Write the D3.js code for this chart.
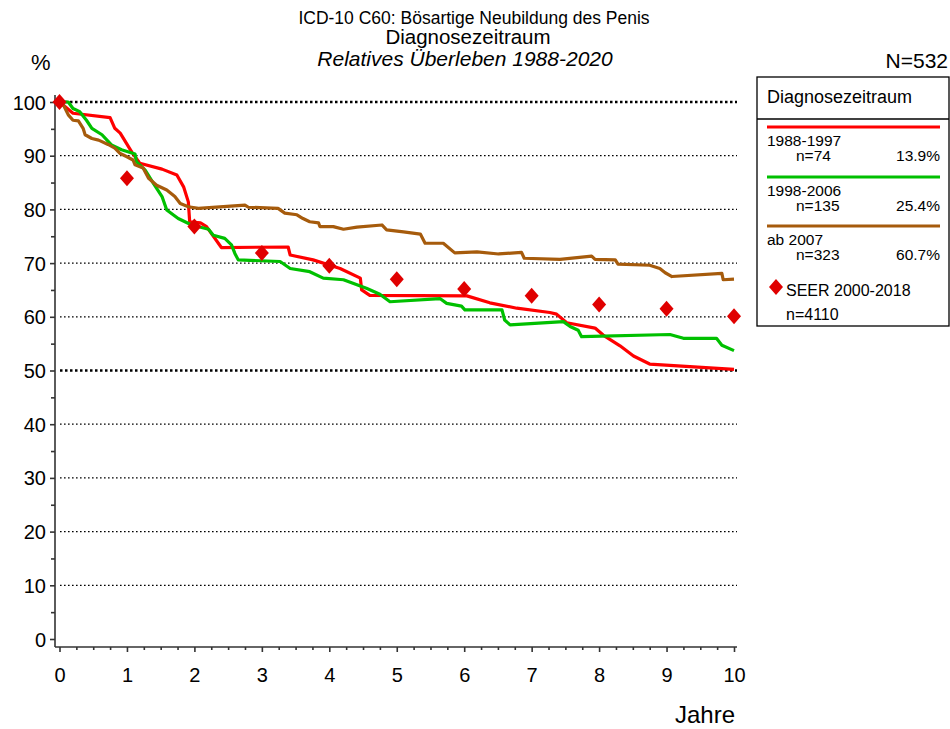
<!DOCTYPE html>
<html><head><meta charset="utf-8">
<script src="https://cdn.jsdelivr.net/npm/d3@7"></script>
<style>
body{margin:0;background:#fff;}
svg{font-family:"Liberation Sans",Arial,sans-serif;}
</style></head><body>
<svg id="c" width="950" height="729"></svg>
<script>
const titleLines = ["ICD-10 C60: Bösartige Neubildung des Penis","Diagnosezeitraum","Relatives Überleben 1988-2020"];
const yTicks = [0,10,20,30,40,50,60,70,80,90,100];
const xTicks = [0,1,2,3,4,5,6,7,8,9,10];
const seriesNames = ["1988-1997","1998-2006","ab 2007"];
const seriesN = ["n=74","n=135","n=323"];
const seriesPct = ["13.9%","25.4%","60.7%"];
const seriesColors = ["#ff0000","#00c000","#a65b0c"];
const red1988 = [[0,100],[0.2,97.9],[0.75,97.1],[0.82,95.1],[0.9,94.2],[1.07,90.7],[1.19,88.6],[1.52,87.5],[1.74,86.4],[1.84,84.2],[1.91,81.4],[1.93,77.7],[2.09,77.5],[2.18,76.8],[2.4,72.9],[3.39,73.0],[3.42,71.5],[3.76,70.6],[4.16,69.0],[4.46,67.2],[4.48,65.0],[4.6,64.0],[6.04,63.9],[6.38,62.6],[6.78,61.6],[7.27,60.8],[7.37,60.5],[7.52,58.9],[7.94,57.9],[8.06,56.6],[8.31,54.6],[8.51,52.7],[8.75,51.2],[10,50.2]];
const green1998 = [[0,100],[0.13,100],[0.2,98.8],[0.3,98.2],[0.4,96.6],[0.48,95.1],[0.63,93.9],[0.77,92.0],[0.92,91.1],[1.12,90.3],[1.14,88.9],[1.27,87.3],[1.39,84.9],[1.52,82.4],[1.59,79.9],[1.76,78.3],[1.96,77.1],[2.21,76.3],[2.28,75.2],[2.45,74.6],[2.55,73.4],[2.6,71.8],[2.65,70.6],[3.27,70.3],[3.42,69.0],[3.71,68.4],[3.91,67.2],[4.21,66.9],[4.55,65.3],[4.75,64.2],[4.9,62.8],[5.64,63.4],[5.74,62.5],[5.96,62.0],[6.01,61.3],[6.56,61.3],[6.6,59.4],[6.68,58.5],[7.47,59.1],[7.57,58.2],[7.69,57.5],[7.74,56.3],[9.05,56.7],[9.25,56.0],[9.74,56.0],[9.82,54.7],[10,53.7]];
const brown2007 = [[0,100],[0.06,99.4],[0.13,97.6],[0.2,96.6],[0.28,96.5],[0.35,95.1],[0.38,93.9],[0.48,93.2],[0.58,92.9],[0.72,92.1],[0.82,91.4],[0.9,90.4],[1.0,89.8],[1.09,89.2],[1.12,88.3],[1.24,87.7],[1.32,85.8],[1.44,84.5],[1.59,83.6],[1.71,82.4],[1.79,81.1],[1.91,80.5],[2.06,80.2],[2.43,80.5],[2.75,80.8],[2.8,80.4],[3.24,80.2],[3.34,79.3],[3.52,79.0],[3.61,78.3],[3.71,77.7],[3.84,77.5],[3.86,76.8],[4.06,76.8],[4.21,76.3],[4.41,76.7],[4.78,77.1],[4.85,76.2],[5.1,75.8],[5.35,75.4],[5.42,73.7],[5.69,73.7],[5.86,71.9],[6.19,72.1],[6.51,71.7],[6.85,72.0],[6.89,70.9],[7.42,70.7],[7.89,71.3],[7.94,70.7],[8.24,70.6],[8.28,69.8],[8.75,69.6],[8.9,69.0],[8.98,68.2],[9.08,67.5],[9.82,68.1],[9.84,66.9],[10,67.0]];
const seerYears = [0,1,2,3,4,5,6,7,8,9,10];
const seerValues = [100,85.8,76.8,71.9,69.5,67.0,65.2,63.9,62.3,61.5,60.1];

const svg = d3.select("#c");
const x = d3.scaleLinear().domain([0,10]).range([59.5,734]);
const y = d3.scaleLinear().domain([0,100]).range([639,102]);

// titles
svg.append("text").attr("x",474).attr("y",24).attr("text-anchor","middle").attr("font-size",17.5).text(titleLines[0]);
svg.append("text").attr("x",468).attr("y",44).attr("text-anchor","middle").attr("font-size",20.5).text(titleLines[1]);
svg.append("text").attr("x",465).attr("y",66).attr("text-anchor","middle").attr("font-size",21).attr("font-style","italic").text(titleLines[2]);
svg.append("text").attr("x",31).attr("y",70).attr("font-size",22).text("%");
svg.append("text").attr("x",948).attr("y",68).attr("text-anchor","end").attr("font-size",21).text("N=532");

// gridlines
svg.append("g").selectAll("line").data(yTicks.filter(d=>d>0)).join("line")
  .attr("x1",60).attr("x2",737).attr("y1",d=>y(d)).attr("y2",d=>y(d))
  .attr("stroke","#000")
  .attr("stroke-width",d=>(d===100||d===50)?2.5:1.3)
  .attr("stroke-dasharray",d=>(d===100||d===50)?"2.5,2.5":"1.6,2.4");

// y axis
const yAx = svg.append("g").attr("transform","translate(55,0)");
yAx.call(d3.axisLeft(y).tickValues(yTicks).tickSize(5).tickPadding(4).tickFormat(d3.format("d")));
const yMinor = svg.append("g").attr("transform","translate(55,0)");
yMinor.call(d3.axisLeft(y).tickValues(d3.range(5,100,10)).tickSize(4).tickFormat(""));
yMinor.select(".domain").remove();
yAx.select(".domain").attr("d","M0,95V647");
[yAx,yMinor].forEach(g=>{g.selectAll("line,path").attr("stroke","#333").attr("stroke-width",1.6);});
yAx.selectAll("text").attr("font-size",20).attr("font-family","Liberation Sans, Arial, sans-serif").attr("fill","#000").attr("dy","0.35em");

// x axis
const xAx = svg.append("g").attr("transform","translate(0,647)");
xAx.call(d3.axisBottom(x).tickValues(xTicks).tickSize(5).tickPadding(16).tickFormat(d3.format("d")));
xAx.select(".domain").attr("d","M55,0H737");
const xMinor = svg.append("g").attr("transform","translate(0,647)");
xMinor.call(d3.axisBottom(x).tickValues(d3.range(0,10.01,0.25).filter(v=>Math.abs(v-Math.round(v))>0.01)).tickSize(3).tickFormat(""));
xMinor.select(".domain").remove();
[xAx,xMinor].forEach(g=>{g.selectAll("line,path").attr("stroke","#333").attr("stroke-width",1.6);});
xAx.selectAll("text").attr("font-size",20).attr("font-family","Liberation Sans, Arial, sans-serif").attr("fill","#000");
svg.append("text").attr("x",735).attr("y",723).attr("text-anchor","end").attr("font-size",24).text("Jahre");

// series lines
const line = d3.line().x(d=>x(d[0])).y(d=>y(d[1]));
const allSeries = [red1988, green1998, brown2007];
svg.append("g").selectAll("path").data(allSeries).join("path")
  .attr("d",line).attr("fill","none")
  .attr("stroke",(d,i)=>seriesColors[i]).attr("stroke-width",3.2)
  .attr("stroke-linejoin","round");

// SEER diamonds
const diamond = "M0,-8L7,0L0,8L-7,0Z";
svg.append("g").selectAll("path").data(seerYears).join("path")
  .attr("transform",(d,i)=>`translate(${x(d)},${y(seerValues[i])})`)
  .attr("d",diamond).attr("fill","#e00000");

// legend
const lg = svg.append("g");
lg.append("rect").attr("x",757).attr("y",77).attr("width",192).attr("height",249)
  .attr("fill","none").attr("stroke","#000").attr("stroke-width",1.3);
lg.append("line").attr("x1",757).attr("x2",949).attr("y1",119).attr("y2",119).attr("stroke","#000").attr("stroke-width",1.3);
lg.append("text").attr("x",767).attr("y",103).attr("font-size",18).text("Diagnosezeitraum");
const rowY = [127,177,226];
seriesNames.forEach((nm,i)=>{
  const yy = rowY[i];
  lg.append("line").attr("x1",767).attr("x2",940).attr("y1",yy).attr("y2",yy).attr("stroke",seriesColors[i]).attr("stroke-width",3.2);
  lg.append("text").attr("x",767).attr("y",yy+19).attr("font-size",15.5).text(nm);
  lg.append("text").attr("x",796).attr("y",yy+33.5).attr("font-size",15.5).text(seriesN[i]);
  lg.append("text").attr("x",940).attr("y",yy+33.5).attr("text-anchor","end").attr("font-size",15.5).text(seriesPct[i]);
});
lg.append("path").attr("transform","translate(776,287)").attr("d",diamond).attr("fill","#e00000");
lg.append("text").attr("x",786).attr("y",296).attr("font-size",16).text("SEER 2000-2018");
lg.append("text").attr("x",786).attr("y",320).attr("font-size",16).text("n=4110");
</script></body></html>
